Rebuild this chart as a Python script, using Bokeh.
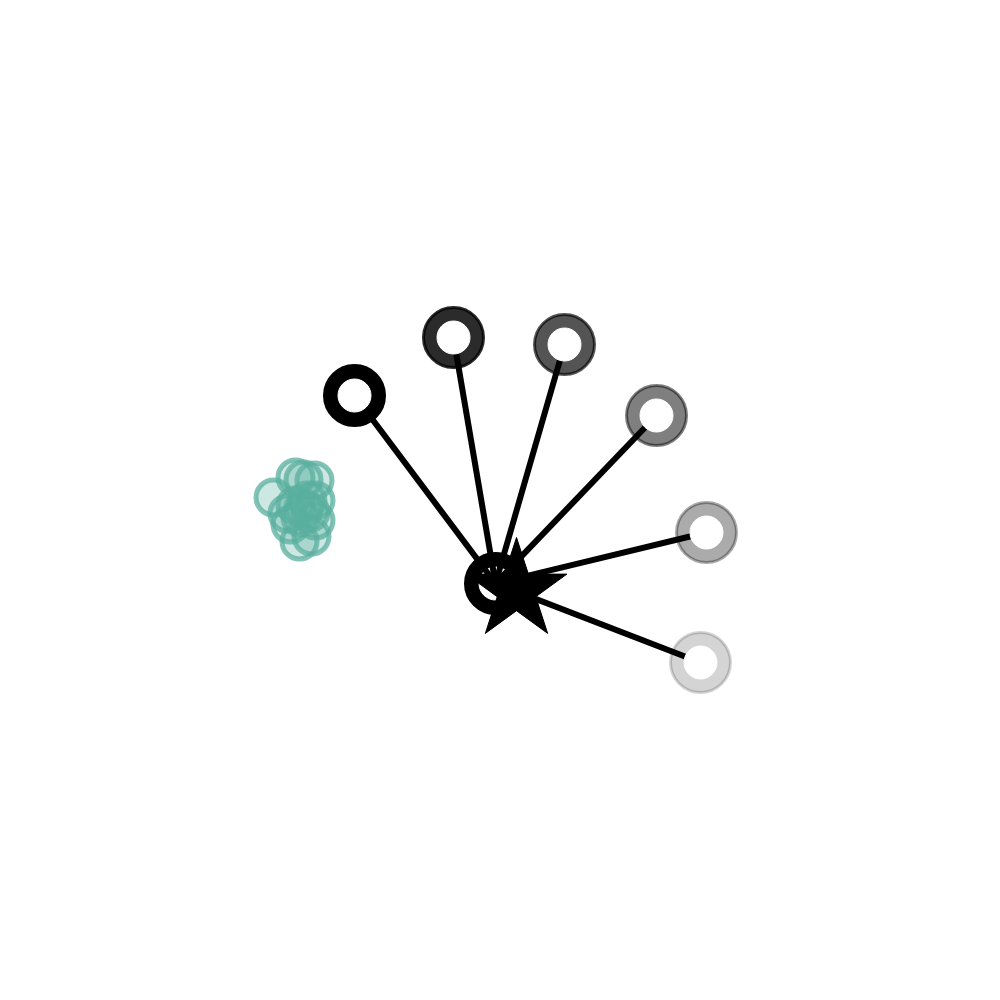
from bokeh.plotting import figure
from bokeh.models import Range1d
from bokeh.embed import file_html
from bokeh.resources import INLINE

# central node and the star next to it
hub_x = [4.95]
hub_y = [4.17]
star_x = [5.16]
star_y = [4.10]

# outer nodes, fading from black to light gray
node_x = [3.54, 4.53, 5.64, 6.56, 7.06, 7.00]
node_y = [6.05, 6.63, 6.56, 5.85, 4.68, 3.38]
node_alpha = [1.0, 0.83, 0.67, 0.5, 0.33, 0.17]

# teal cluster on the left
cluster_x = [2.73, 2.95, 3.14, 3.03, 3.15, 3.15, 2.99, 3.11, 2.87, 2.90, 3.03, 3.00, 3.07, 2.95, 3.10]
cluster_y = [5.03, 5.23, 5.20, 5.21, 5.00, 4.80, 4.59, 4.64, 4.87, 4.76, 4.92, 4.83, 5.00, 4.95, 4.88]

p = figure(width=984, height=984, output_backend="svg", toolbar_location=None,
           x_range=Range1d(0.0, 9.84), y_range=Range1d(0.16, 10.0),
           min_border=0)
p.axis.visible = False
p.grid.visible = False
p.outline_line_color = None

# teal blobs
p.scatter(cluster_x, cluster_y, marker="circle", size=35,
          fill_color="#5aaf9f", fill_alpha=0.3,
          line_color="#5aaf9f", line_alpha=0.75, line_width=5)

# outer rings
p.scatter(node_x, node_y, marker="circle", size=60,
          fill_color="black", fill_alpha=node_alpha,
          line_color="black", line_alpha=node_alpha, line_width=3)

# hub ring
p.scatter(hub_x, hub_y, marker="circle", size=60, color="black", line_width=3)
p.scatter(hub_x, hub_y, marker="circle", size=33, color="white")

# spokes
p.segment(x0=hub_x * len(node_x), y0=hub_y * len(node_y), x1=node_x, y1=node_y,
          line_color="black", line_width=6)

# holes of the outer rings
p.scatter(node_x, node_y, marker="circle", size=33, color="white")

# star
p.scatter(star_x, star_y, marker="star", size=106, color="black")

open("out.html", "w").write(file_html(p, INLINE))
